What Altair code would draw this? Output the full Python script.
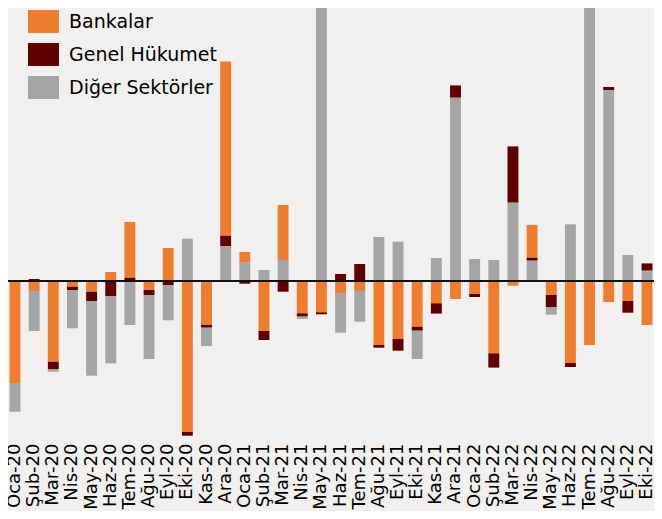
import altair as alt
import pandas as pd

months = ["Oca-20", "Şub-20", "Mar-20", "Nis-20", "May-20", "Haz-20", "Tem-20",
          "Ağu-20", "Eyl-20", "Eki-20", "Kas-20", "Ara-20", "Oca-21", "Şub-21",
          "Mar-21", "Nis-21", "May-21", "Haz-21", "Tem-21", "Ağu-21", "Eyl-21",
          "Eki-21", "Kas-21", "Ara-21", "Oca-22", "Şub-22", "Mar-22", "Nis-22",
          "May-22", "Haz-22", "Tem-22", "Ağu-22", "Eyl-22", "Eki-22"]

bankalar = [-10.20, -1.00, -8.07, -0.57, -1.07, 0.90, 5.57, -0.90, 3.30, -15.10,
            -4.40, 17.40, 1.07, -5.00, 5.50, -3.23, -3.13, -1.27, -1.00, -6.40,
            -5.80, -4.57, -2.23, -1.80, -1.30, -7.23, -0.47, 3.27, -1.40, -8.20,
            -6.40, -2.10, -2.00, -4.40]

genel = [0.00, 0.20, -0.73, -0.33, -0.93, -1.50, 0.33, -0.50, -0.40, -0.37,
         -0.27, 1.07, -0.27, -0.90, -1.07, -0.33, -0.20, 0.70, 1.70, -0.27,
         -1.17, -0.40, -1.03, 1.23, -0.30, -1.43, 5.63, 0.30, -1.20, -0.40,
         0.10, 0.33, -1.17, 0.73]

diger = [-2.87, -4.00, -0.27, -3.83, -7.47, -6.73, -4.40, -6.40, -3.53, 4.23,
         -1.83, 3.47, 1.83, 1.10, 2.10, -0.23, 28.00, -3.90, -3.07, 4.40,
         3.93, -2.83, 2.30, 18.33, 2.20, 2.10, 7.83, 2.03, -0.77, 5.67,
         27.83, 19.07, 2.60, 1.03]

series = ["Bankalar", "Genel Hükumet", "Diğer Sektörler"]
colors = ["#ED7D31", "#5E0000", "#A5A5A5"]

rows = []
for i, m in enumerate(months):
    for s, vals in zip(series, [bankalar, genel, diger]):
        rows.append({"ay": m, "seri": s, "deger": vals[i]})
df = pd.DataFrame(rows)

pos_rank = {"Diğer Sektörler": 0, "Genel Hükumet": 1, "Bankalar": 2}
neg_rank = {"Bankalar": 0, "Genel Hükumet": 1, "Diğer Sektörler": 2}
df["sira"] = [pos_rank[s] if v >= 0 else neg_rank[s] for s, v in zip(df["seri"], df["deger"])]

yscale = alt.Scale(domain=[-15.9, 27.3], nice=False, zero=False)

bars = alt.Chart(df).mark_bar(clip=True).encode(
    x=alt.X("ay:N", sort=months,
            scale=alt.Scale(paddingInner=0.43, paddingOuter=0.08),
            axis=alt.Axis(title=None, labelAngle=270, labelFont="DejaVu Sans",
                          labelFontSize=18, labelColor="#000000", labelPadding=3,
                          ticks=False, domain=False, labelOverlap=False,
                          labelAlign="right", labelBaseline="middle")),
    y=alt.Y("deger:Q", stack="zero", scale=yscale, axis=None),
    color=alt.Color("seri:N", scale=alt.Scale(domain=series, range=colors),
                    legend=alt.Legend(title=None, orient="none", legendX=20, legendY=-2,
                                      symbolType="M-1,-0.74L1,-0.74L1,0.74L-1,0.74Z",
                                      symbolSize=961, symbolStrokeWidth=0,
                                      symbolOpacity=1, labelFont="DejaVu Sans",
                                      labelFontSize=19, labelColor="#000000",
                                      labelOffset=10, rowPadding=6, padding=0,
                                      labelLimit=300)),
    order=alt.Order("sira:Q"),
)

rule = alt.Chart(pd.DataFrame({"y": [0]})).mark_rule(color="#111111", strokeWidth=2).encode(
    y=alt.Y("y:Q", scale=yscale, axis=None)
)

chart = alt.layer(bars, rule).properties(
    width=646, height=432,
    autosize=alt.AutoSizeParams(type="none"),
    padding={"left": 0, "top": 0, "right": 0, "bottom": 71},
    background="#f2f0ee",
).configure_view(stroke=None)

chart.save("out.html", embed_options={"renderer": "svg", "actions": False})
